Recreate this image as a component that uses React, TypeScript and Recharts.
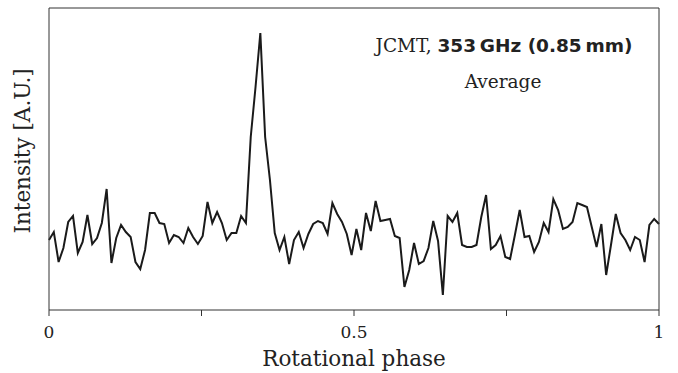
import { LineChart, Line, XAxis, YAxis } from "recharts";

// averaged JCMT 353 GHz light curve, 128 phase bins over one rotation
const intensity = [
  0.7, 0.78, 0.48, 0.62, 0.88, 0.94, 0.57, 0.68, 0.95, 0.66, 0.72, 0.87, 1.21, 0.47, 0.72, 0.85,
  0.78, 0.73, 0.48, 0.41, 0.6, 0.97, 0.97, 0.87, 0.86, 0.67, 0.75, 0.73, 0.67, 0.82, 0.73, 0.66,
  0.74, 1.08, 0.87, 0.98, 0.87, 0.7, 0.77, 0.77, 0.94, 0.87, 1.73, 2.23, 2.77, 1.73, 1.3, 0.77,
  0.6, 0.73, 0.46, 0.7, 0.78, 0.62, 0.76, 0.86, 0.89, 0.87, 0.76, 1.07, 0.96, 0.88, 0.76, 0.55,
  0.81, 0.6, 0.97, 0.79, 1.09, 0.89, 0.9, 0.91, 0.74, 0.72, 0.23, 0.4, 0.67, 0.46, 0.49, 0.62,
  0.89, 0.69, 0.15, 0.94, 0.88, 0.97, 0.65, 0.63, 0.63, 0.65, 0.93, 1.15, 0.61, 0.65, 0.74, 0.53,
  0.51, 0.75, 1.0, 0.73, 0.74, 0.58, 0.68, 0.87, 0.78, 1.11, 1.0, 0.81, 0.83, 0.88, 1.07, 1.05,
  1.03, 0.83, 0.63, 0.86, 0.35, 0.65, 0.96, 0.77, 0.7, 0.6, 0.73, 0.7, 0.48, 0.85, 0.91, 0.86,
];

const phaseTicks = [0, 0.25, 0.5, 0.75, 1];
const labelledTicks = [0, 0.5, 1];

const data = intensity.map((v, i) => ({ phase: i / (intensity.length - 1), value: v }));

const serif = "DejaVu Serif";
const ink = "#222";
const axisColor = "#333";

export default function App() {
  return (
    <div style={{ position: "absolute", left: 0, top: 0, width: 678, height: 373, background: "#fff" }}>
      <LineChart width={678} height={373} data={data} margin={{ top: 0, right: 0, bottom: 0, left: 0 }}>
        <XAxis
          dataKey="phase"
          type="number"
          domain={[0, 1]}
          ticks={phaseTicks}
          tickFormatter={(v: number) => (labelledTicks.includes(v) ? String(v) : "")}
          height={63}
          tickSize={6}
          tickMargin={10}
          stroke={axisColor}
          tick={{ fill: ink, fontSize: 17, fontFamily: serif }}
          interval={0}
        />
        <XAxis
          xAxisId="top"
          orientation="top"
          type="number"
          domain={[0, 1]}
          height={8}
          tick={false}
          tickLine={false}
          stroke={axisColor}
        />
        <YAxis type="number" domain={[0, 3.02]} width={49} tick={false} tickLine={false} stroke={axisColor} />
        <YAxis
          yAxisId="right"
          orientation="right"
          type="number"
          domain={[0, 1]}
          width={19}
          tick={false}
          tickLine={false}
          stroke={axisColor}
        />
        <Line
          type="linear"
          dataKey="value"
          stroke="#1a1a1a"
          strokeWidth={2}
          dot={false}
          isAnimationActive={false}
        />
        <text x={354} y={366} textAnchor="middle" fontFamily={serif} fontSize={21.5} fill={ink}>
          Rotational phase
        </text>
        <text
          x={0}
          y={0}
          transform="translate(30,151) rotate(-90)"
          textAnchor="middle"
          fontFamily={serif}
          fontSize={21.5}
          fill={ink}
        >
          Intensity [A.U.]
        </text>
        <text x={504} y={52} textAnchor="middle" fontSize={18.5} fill={ink}>
          <tspan fontFamily={serif}>JCMT, </tspan>
          <tspan fontFamily="DejaVu Sans" fontWeight="bold">
            353{"\u2009"}GHz (0.85{"\u2009"}mm)
          </tspan>
        </text>
        <text x={503} y={88} textAnchor="middle" fontFamily={serif} fontSize={18.5} fill={ink}>
          Average
        </text>
      </LineChart>
    </div>
  );
}
